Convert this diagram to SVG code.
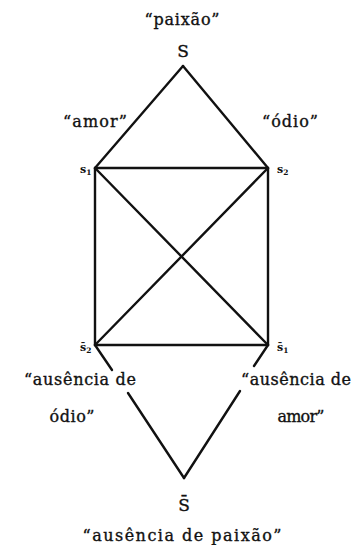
<svg xmlns="http://www.w3.org/2000/svg" width="361" height="545" viewBox="0 0 361 545">
<style>
.t{font-family:"DejaVu Serif","Liberation Serif",serif;font-size:16px;fill:#111;stroke:#111;stroke-width:0.35}
.s{font-family:"DejaVu Serif","Liberation Serif",serif;font-size:11px;font-weight:bold;fill:#111}
.sub{font-size:7.5px}
.big{font-family:"DejaVu Serif","Liberation Serif",serif;font-size:17px;fill:#111;stroke:#111;stroke-width:0.35}
.e{stroke:#111;stroke-width:2.4;fill:none;stroke-linecap:round}
</style>
<rect width="361" height="545" fill="#fff"/>
<g id="connectors">
<line class="e" x1="183" y1="66" x2="95" y2="168"/>
<line class="e" x1="183" y1="66" x2="268" y2="168"/>
<line class="e" x1="95" y1="168" x2="268" y2="168"/>
<line class="e" x1="95" y1="168" x2="95" y2="345"/>
<line class="e" x1="268" y1="168" x2="268" y2="345"/>
<line class="e" x1="95" y1="345" x2="268" y2="345"/>
<line class="e" x1="95" y1="168" x2="268" y2="345"/>
<line class="e" x1="268" y1="168" x2="95" y2="345"/>
<line class="e" x1="95" y1="345" x2="112" y2="370"/>
<line class="e" x1="128" y1="393" x2="184" y2="478"/>
<line class="e" x1="268" y1="345" x2="254" y2="366"/>
<line class="e" x1="240" y1="391" x2="184" y2="478"/>
</g>
<g id="S">
<text class="t" x="182" y="25" text-anchor="middle" textLength="75" lengthAdjust="spacing">“paixão”</text>
<text class="big" x="183" y="57" text-anchor="middle">S</text>
</g>
<g id="s1">
<text class="t" x="95" y="127" text-anchor="middle" textLength="64" lengthAdjust="spacing">“amor”</text>
<text class="s" x="80" y="173">s<tspan class="sub" dy="2">1</tspan></text>
</g>
<g id="s2">
<text class="t" x="290" y="127" text-anchor="middle" textLength="56" lengthAdjust="spacing">“ódio”</text>
<text class="s" x="277" y="173">s<tspan class="sub" dy="2">2</tspan></text>
</g>
<g id="nots2">
<text class="s" x="80" y="351">s̄<tspan class="sub" dy="2">2</tspan></text>
<text class="t" x="80" y="385" text-anchor="middle" textLength="112" lengthAdjust="spacing">“ausência de</text>
<text class="t" x="72" y="422" text-anchor="middle" textLength="45" lengthAdjust="spacing">ódio”</text>
</g>
<g id="nots1">
<text class="s" x="277" y="351">s̄<tspan class="sub" dy="2">1</tspan></text>
<text class="t" x="296" y="385" text-anchor="middle" textLength="110" lengthAdjust="spacing">“ausência de</text>
<text class="t" x="301" y="422" text-anchor="middle" textLength="47" lengthAdjust="spacing">amor”</text>
</g>
<g id="notS">
<text class="big" x="184" y="511" text-anchor="middle">S̄</text>
<text class="t" x="182" y="541" text-anchor="middle" textLength="199" lengthAdjust="spacing">“ausência de paixão”</text>
</g>
</svg>
